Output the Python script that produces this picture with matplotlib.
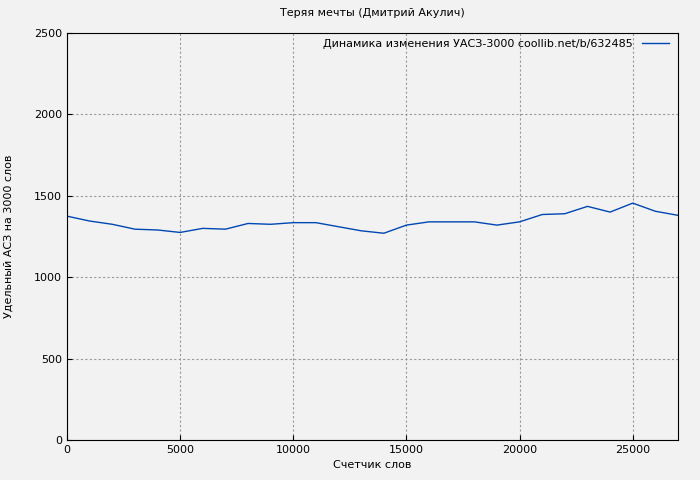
import matplotlib
matplotlib.use('Agg')
import matplotlib.pyplot as plt

words = list(range(0, 28000, 1000))
uasz = [1375, 1345, 1325, 1295, 1290, 1275, 1300, 1295, 1330, 1325, 1335, 1335,
        1310, 1285, 1270, 1320, 1340, 1340, 1340, 1320, 1340, 1385, 1390, 1435,
        1400, 1455, 1405, 1380]

fig = plt.figure(figsize=(7, 4.8), dpi=100)
fig.patch.set_facecolor('#f2f2f2')
ax = fig.add_axes([67/700, 40/480, 611/700, 407/480])
ax.set_facecolor('#f2f2f2')
ax.plot(words, uasz, color='#0047b3', lw=1,
        label='Динамика изменения УАСЗ-3000 coollib.net/b/632485')
ax.set_xlim(0, 27000)
ax.set_ylim(0, 2500)
ax.set_xticks(range(0, 27000, 5000))
ax.set_yticks(range(0, 2501, 500))
ax.grid(True, color='#999999', linestyle=(0, (2, 2)), lw=0.8)
ax.tick_params(labelsize=8, direction='in')
ax.set_xlabel('Счетчик слов', fontsize=8)
ax.set_ylabel('Удельный АСЗ на 3000 слов', fontsize=8, va='center')
ax.yaxis.set_label_coords(-58/611, 0.5)
ax.set_title('Теряя мечты (Дмитрий Акулич)', fontsize=8, pad=12)
leg = ax.legend(loc='upper right', fontsize=8, frameon=False, markerfirst=False,
                handlelength=2.5, borderaxespad=0.1, bbox_to_anchor=(0.995, 1.0))
plt.savefig('out.png')
